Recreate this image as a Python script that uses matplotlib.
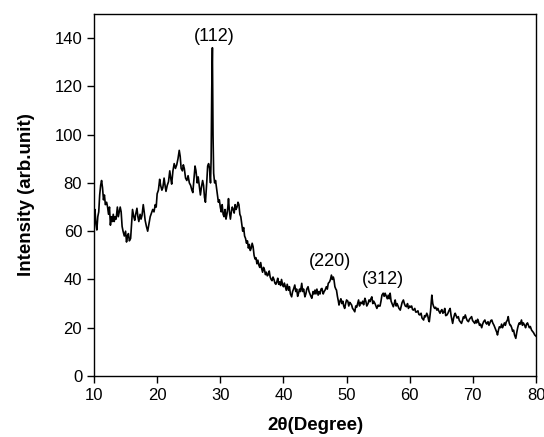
import matplotlib
matplotlib.use("Agg")
import matplotlib.pyplot as plt

plt.rcParams['font.family'] = ['Liberation Sans', 'DejaVu Sans']

# 2theta (deg) and intensity
two_theta = [
    10.0, 10.15, 10.3, 10.45, 10.6, 10.75, 10.9, 11.05, 11.2, 11.35, 11.5, 11.65, 11.8,
    12.0, 12.15, 12.3, 12.45, 12.6, 12.75, 12.9, 13.05, 13.2, 13.35, 13.5, 13.7, 13.85,
    14.0, 14.15, 14.3, 14.45, 14.6, 14.8, 15.0, 15.15, 15.3, 15.45, 15.6, 15.8, 15.95,
    16.1, 16.3, 16.45, 16.6, 16.8, 16.95, 17.1, 17.3, 17.45, 17.6, 17.8, 17.95,
    18.1, 18.3, 18.5, 18.7, 18.9, 19.1, 19.3, 19.5, 19.7, 19.85,
    20.0, 20.2, 20.4, 20.55, 20.75, 20.9, 21.1, 21.25, 21.4, 21.6, 21.8,
    22.0, 22.15, 22.3, 22.5, 22.7, 22.9, 23.1, 23.3, 23.5, 23.65, 23.8,
    24.0, 24.15, 24.3, 24.5, 24.7, 24.9, 25.1, 25.3, 25.5, 25.65, 25.85,
    26.0, 26.15, 26.35, 26.5, 26.7, 26.85, 27.0, 27.2, 27.35, 27.5, 27.65, 27.85,
    28.0, 28.15, 28.3, 28.45, 28.55, 28.65, 28.75, 28.85, 28.95, 29.1, 29.25, 29.4,
    29.55, 29.7, 29.85, 30.0, 30.15, 30.3, 30.45, 30.6, 30.75, 30.9, 31.05, 31.2,
    31.3, 31.45, 31.6, 31.75, 31.9, 32.05, 32.2, 32.35, 32.5, 32.65, 32.8, 32.95,
    33.1, 33.25, 33.4, 33.55, 33.7, 33.85, 34.0, 34.15, 34.3, 34.45, 34.6, 34.75, 34.9,
    35.05, 35.2, 35.35, 35.5, 35.65, 35.8, 35.95, 36.1, 36.25, 36.4, 36.55, 36.7, 36.85,
    37.0, 37.15, 37.3, 37.45, 37.6, 37.75, 37.9, 38.05, 38.2, 38.35, 38.5, 38.65, 38.8,
    38.95, 39.1, 39.25, 39.4, 39.55, 39.7, 39.85, 40.0, 40.15, 40.3, 40.45, 40.6, 40.8,
    40.95, 41.1, 41.3, 41.45, 41.6, 41.8, 41.95, 42.1, 42.25, 42.4, 42.55, 42.7, 42.9,
    43.05, 43.2, 43.4, 43.55, 43.7, 43.9, 44.05, 44.2, 44.35, 44.5, 44.7, 44.85,
    45.0, 45.15, 45.3, 45.5, 45.65, 45.8, 45.95, 46.1, 46.3, 46.45, 46.6, 46.8, 46.95,
    47.1, 47.3, 47.45, 47.6, 47.75, 47.9, 48.0, 48.15, 48.3, 48.4, 48.55, 48.7, 48.8,
    48.95, 49.1, 49.25, 49.4, 49.55, 49.7, 49.85, 50.0, 50.2, 50.35, 50.5, 50.65, 50.8,
    50.95, 51.1, 51.3, 51.45, 51.6, 51.75, 51.9, 52.05, 52.2, 52.4, 52.55, 52.7, 52.9,
    53.05, 53.2, 53.4, 53.55, 53.7, 53.85, 54.0, 54.15, 54.3, 54.5, 54.65, 54.8,
    55.0, 55.15, 55.3, 55.45, 55.6, 55.8, 55.95, 56.1, 56.3, 56.45, 56.6, 56.75, 56.9,
    57.05, 57.2, 57.4, 57.55, 57.7, 57.85, 58.0, 58.15, 58.3, 58.5, 58.65, 58.8,
    59.0, 59.15, 59.3, 59.5, 59.65, 59.8, 60.0, 60.15, 60.3, 60.45, 60.6, 60.8, 60.95,
    61.1, 61.3, 61.45, 61.6, 61.8, 61.95, 62.1, 62.2, 62.35, 62.5, 62.7, 62.85,
    63.0, 63.1, 63.3, 63.5, 63.65, 63.8, 63.95, 64.1, 64.3, 64.45, 64.6, 64.8, 64.95,
    65.1, 65.25, 65.4, 65.55, 65.7, 65.9, 66.05, 66.2, 66.4, 66.55, 66.7, 66.8, 66.95,
    67.1, 67.2, 67.35, 67.5, 67.7, 67.85, 68.0, 68.2, 68.35, 68.5, 68.65, 68.8, 68.95,
    69.1, 69.3, 69.45, 69.6, 69.8, 69.95, 70.1, 70.3, 70.45, 70.6, 70.75, 70.9,
    71.05, 71.2, 71.4, 71.55, 71.7, 71.9, 72.05, 72.2, 72.4, 72.55, 72.7, 72.85,
    73.0, 73.15, 73.35, 73.5, 73.65, 73.8, 73.9, 74.05, 74.2, 74.4, 74.55, 74.7, 74.85,
    75.0, 75.15, 75.3, 75.45, 75.6, 75.75, 75.9, 76.0, 76.15, 76.3, 76.45, 76.6, 76.8,
    76.95, 77.1, 77.2, 77.35, 77.5, 77.7, 77.85, 78.0, 78.2, 78.35, 78.5, 78.65, 78.8,
    78.95, 79.1, 79.3, 79.45, 79.6, 79.8, 80.0,
]
intensity = [
    67, 69, 63, 60.5, 66, 68, 75, 79, 81, 78, 73, 75, 71,
    72, 70, 67, 70, 62.5, 66, 64, 67, 64, 66, 65, 70, 66,
    68, 70, 68, 62, 60, 58, 60, 55.5, 58, 59, 56, 57, 63,
    69, 66, 64.5, 67, 69.5, 66, 64, 67, 65, 66.5, 71, 68,
    64.5, 62, 60, 63, 66, 67.5, 69, 68, 71, 70,
    75.5, 77, 81.5, 79, 77, 78, 82, 79, 76.5, 79, 80.5,
    85, 82, 79.5, 85, 88, 86, 87.5, 90, 93.5, 91, 86,
    85, 87.5, 86, 82, 81, 83, 80, 79, 77, 76, 82,
    87, 85, 80, 82.5, 78, 75, 78, 81, 79, 74, 72, 80,
    87, 88, 86, 80, 90, 119, 136, 100, 84, 80, 81, 78,
    75, 72, 73, 70, 68, 71, 67, 66, 69, 65, 67, 70,
    73.5, 68, 65, 68, 70, 69, 67.5, 71, 69, 70, 72, 71,
    67, 66, 63, 60, 61.5, 58, 57, 55, 56, 53, 54.5, 52, 53,
    55, 53.5, 50, 48.5, 49, 46.5, 48, 46, 45, 47, 44.5, 43, 45,
    44, 42, 43, 41.5, 42, 43.5, 41, 40, 39.5, 41, 40, 38.5, 38,
    39, 40.5, 38, 39, 37.5, 40, 38, 37, 38.5, 37, 35.5, 38, 35.5,
    37, 34, 32.8, 35, 36, 37.7, 35, 36, 33, 34.3, 36, 35, 38.4,
    35, 36, 32.8, 34, 36, 37, 35, 34, 33, 32.2, 35, 34,
    35.6, 34, 36, 33.5, 35, 34, 36, 36.3, 34, 35, 35.6, 37, 36,
    38.4, 39, 40, 41.8, 40, 41, 40, 37, 36, 35.6, 33, 31, 29.4,
    31, 32, 30, 31, 29, 28, 30, 31.5, 31, 29, 30.5, 30, 29.4,
    28, 27.5, 26.6, 29, 28.5, 30, 31.5, 29, 30.5, 30, 31, 29.5, 32.2,
    31, 29, 30, 31.5, 30.8, 32, 32.8, 30, 31, 30, 29, 28,
    29.4, 29, 29, 31, 33.5, 34.3, 33, 34.3, 33, 32, 33.5, 32, 34.3,
    31, 30, 28.7, 30, 31.5, 29, 30, 29, 28, 27.3, 29, 30.5,
    31.5, 30, 29, 28.7, 30, 28, 29, 28.5, 29, 27.5, 27.3, 28, 26.5,
    26.5, 27, 25.5, 25.3, 26, 24, 23.5, 23.2, 25, 24.5, 26, 25,
    23, 22.5, 27, 33.5, 30, 28.7, 28, 28.5, 27.3, 28, 27, 26, 27,
    27.5, 26, 26.5, 28, 25, 25.3, 26, 27, 28, 25, 23, 21.8, 24,
    25.5, 26, 25, 24, 24.6, 23, 22.5, 21.8, 23, 24.5, 24, 25.3, 24,
    23, 22.5, 23.5, 24, 24.6, 23, 22.5, 21.8, 23, 22, 23.5, 22.5,
    21, 21.5, 20, 21.5, 22.5, 23.2, 22, 21.5, 22.5, 21, 22, 23,
    23.2, 22, 21, 20, 19, 18, 17, 19, 20.4, 20, 21.5, 20, 21,
    22, 21, 22.5, 23, 24.6, 22, 21, 21, 20, 18.5, 19, 17, 15.6,
    18, 20, 21, 22, 21.5, 23.2, 21, 22, 21, 20, 21.5, 22, 21,
    20, 20.5, 19, 18.5, 18, 17, 16.5,
]

peak_labels = ['(112)', '(220)', '(312)']
peak_x = [29.0, 47.4, 55.8]
peak_y = [140.5, 47.5, 40.0]

fig = plt.figure(figsize=(5.44, 4.37), dpi=100)
ax = fig.add_axes([0.1728, 0.1396, 0.8125, 0.8284])

ax.plot(two_theta, intensity, color='black', linewidth=1.2)

for lab, px, py in zip(peak_labels, peak_x, peak_y):
    ax.text(px, py, lab, ha='center', va='center', fontsize=13)

ax.set_xlim(10, 80)
ax.set_ylim(0, 150)
ax.set_xticks(range(10, 81, 10))
ax.set_yticks(range(0, 141, 20))
ax.tick_params(direction='out', length=5, width=1, labelsize=12, top=False, right=False)
for s in ax.spines.values():
    s.set_linewidth(1.0)

ax.set_xlabel('2θ(Degree)', fontsize=13.5, fontweight='bold', labelpad=10)
ax.set_ylabel('Intensity (arb.unit)', fontsize=13.5, fontweight='bold', labelpad=14)

plt.savefig('out.png', dpi=100)
